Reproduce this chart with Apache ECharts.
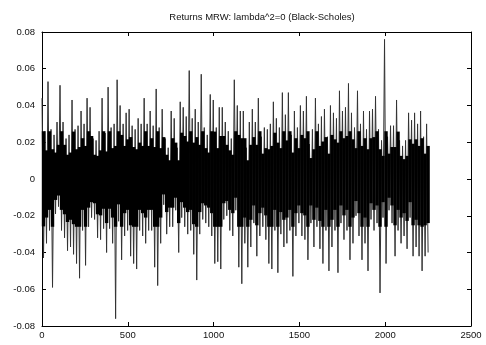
<!DOCTYPE html>
<html>
<head>
<meta charset="utf-8">
<script src="https://cdn.jsdelivr.net/npm/echarts@6/dist/echarts.min.js"></script>
<style>
html,body{margin:0;padding:0;background:#fff;}
#c{width:486px;height:345px;}
</style>
</head>
<body>
<div id="c"></div>
<script>
// Title and axis ticks
var titleText = "Returns MRW: lambda^2=0 (Black-Scholes)";
var xTicks = [0, 500, 1000, 1500, 2000, 2500];
var yTicks = [-0.08, -0.06, -0.04, -0.02, 0, 0.02, 0.04, 0.06, 0.08];
var nObs = 2250; // length of the return series

// Upper and lower envelope of the returns, read per ~17-observation slice (in 1/1000)
var highs = [
  44,26,53,27,24,31,51,31,22,24,43,27,29,37,30,44,39,22,21,26,44,
  25,50,28,30,54,40,30,36,38,29,27,33,30,44,30,37,29,49,28,38,22,17,
  37,33,17,42,39,34,59,33,38,31,57,28,24,46,43,28,39,39,31,26,22,54,
  40,37,37,17,31,38,31,44,23,28,27,30,42,33,28,47,35,47,24,37,28,
  40,37,45,19,27,44,30,34,38,23,40,36,33,48,37,39,52,36,28,48,30,37,
  27,37,38,45,27,21,76,23,29,29,43,21,18,21,36,32,36,30,37,23,30
];
var lows = [
  -43,-35,-28,-59,-19,-15,-28,-32,-39,-37,-41,-46,-54,-28,-47,-26,-21,-22,-32,-33,-27,
  -40,-27,-35,-76,-23,-44,-31,-28,-42,-46,-49,-28,-31,-35,-28,-28,-48,-58,-35,-14,-30,-26,
  -26,-17,-40,-21,-26,-30,-28,-41,-55,-30,-22,-24,-26,-31,-46,-45,-49,-22,-20,-28,-31,-17,
  -48,-57,-35,-48,-37,-24,-42,-31,-26,-33,-46,-49,-28,-51,-30,-37,-35,-28,-53,-31,-24,
  -31,-33,-44,-24,-37,-26,-38,-46,-28,-50,-37,-28,-51,-24,-33,-28,-44,-35,-20,-31,-44,-35,
  -50,-22,-28,-24,-62,-21,-46,-17,-24,-42,-28,-35,-31,-38,-21,-42,-37,-42,-50,-42,-40
];

// Build the series: alternate high / low along the observation index
var zig = [];
var slices = [];
var nPts = highs.length * 2;
var step = nObs / (nPts - 1);
for (var i = 0; i < highs.length; i++) {
  zig.push([(2 * i) * step, highs[i] / 1000]);
  zig.push([(2 * i + 1) * step, lows[i] / 1000]);
  slices.push([(2 * i) * step, (2 * i + 1) * step, highs[i] / 1000, lows[i] / 1000]);
}

// Rendering style for the densely inked inner part of each slice
var CORE_SHARE = 0.6, CORE_CAP = 0.026;

function fmtY(v) {
  var r = Math.round(v * 100) / 100;
  if (r === 0) return "0";
  return r.toFixed(2);
}
function fmtX(v) { return String(Math.round(v)); }

var font = "Liberation Sans";
var axisLine = {show: true, onZero: false, lineStyle: {color: '#000', width: 1}};
var tick = {show: true, inside: true, length: 4, lineStyle: {color: '#000'}};
var chart = echarts.init(document.getElementById('c'), null, {renderer: 'canvas'});
chart.setOption({
  animation: false,
  backgroundColor: '#fff',
  title: {
    text: titleText, left: 257, top: 7, textAlign: 'center',
    textStyle: {fontFamily: font, fontSize: 9.5, fontWeight: 'normal', color: '#111'}
  },
  grid: {left: 42, right: 15, top: 32, bottom: 19, containLabel: false},
  xAxis: [{
    type: 'value', min: xTicks[0], max: xTicks[xTicks.length - 1], interval: 500,
    position: 'bottom',
    axisLine: axisLine, axisTick: tick,
    splitLine: {show: false},
    axisLabel: {fontFamily: font, fontSize: 9.5, color: '#111', margin: 4, formatter: fmtX}
  }, {
    type: 'value', min: xTicks[0], max: xTicks[xTicks.length - 1], interval: 500,
    position: 'top',
    axisLine: axisLine, axisTick: tick,
    splitLine: {show: false},
    axisLabel: {show: false}
  }],
  yAxis: [{
    type: 'value', min: yTicks[0], max: yTicks[yTicks.length - 1], interval: 0.02,
    position: 'left',
    axisLine: axisLine, axisTick: tick,
    splitLine: {show: false},
    axisLabel: {fontFamily: font, fontSize: 9.5, color: '#111', margin: 7, formatter: fmtY}
  }, {
    type: 'value', min: yTicks[0], max: yTicks[yTicks.length - 1], interval: 0.02,
    position: 'right',
    axisLine: axisLine, axisTick: tick,
    splitLine: {show: false},
    axisLabel: {show: false}
  }],
  series: [{
    type: 'line',
    xAxisIndex: 0, yAxisIndex: 0,
    data: zig,
    showSymbol: false,
    symbol: 'none',
    sampling: null,
    lineStyle: {color: '#333', width: 1},
    silent: true,
    z: 2
  }, {
    type: 'custom',
    xAxisIndex: 0, yAxisIndex: 0,
    data: slices,
    silent: true,
    z: 3,
    renderItem: function (params, api) {
      var top = Math.min(api.value(2) * CORE_SHARE, CORE_CAP);
      var bot = Math.max(api.value(3) * CORE_SHARE, -CORE_CAP);
      var p1 = api.coord([api.value(0), top]);
      var p2 = api.coord([api.value(1), bot]);
      var w = (p2[0] - p1[0]) * 2 + 0.4;
      return {
        type: 'rect',
        shape: {x: p1[0] - 0.2, y: p1[1], width: w, height: p2[1] - p1[1]},
        style: {fill: '#000'}
      };
    }
  }]
});
</script>
</body>
</html>
